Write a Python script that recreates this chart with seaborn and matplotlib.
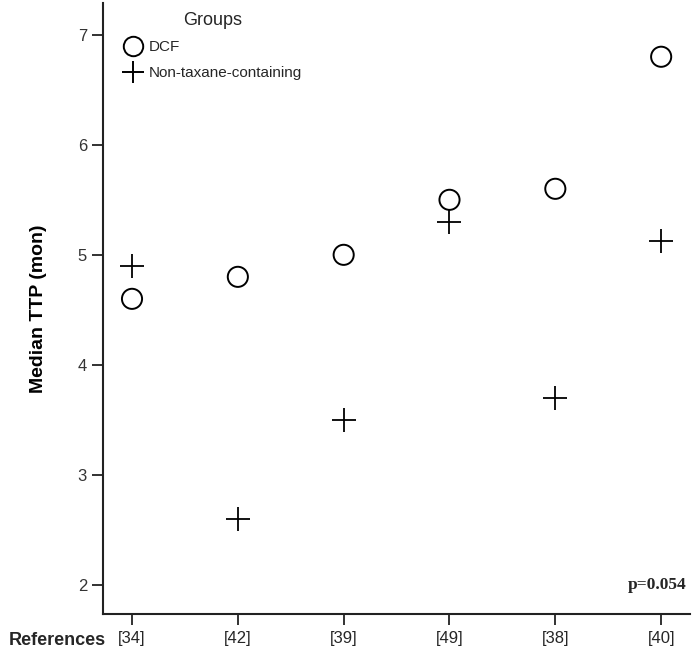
import matplotlib
matplotlib.use("Agg")
import matplotlib.pyplot as plt
from matplotlib.lines import Line2D
import seaborn as sns
import pandas as pd

references = ["[34]", "[42]", "[39]", "[49]", "[38]", "[40]"]
dcf_ttp = [4.6, 4.8, 5.0, 5.5, 5.6, 6.8]
non_taxane_ttp = [4.9, 2.6, 3.5, 5.3, 3.7, 5.13]
y_ticks = [2, 3, 4, 5, 6, 7]

df = pd.DataFrame({
    "pos": list(range(len(references))) * 2,
    "ttp": dcf_ttp + non_taxane_ttp,
    "group": ["DCF"] * len(references) + ["Non-taxane-containing"] * len(references),
})

sns.set_style("ticks")
plt.rcParams["font.family"] = ["Liberation Sans", "DejaVu Sans"]

fig = plt.figure(figsize=(6.96, 6.6), dpi=100)
ax = fig.add_axes([0.148, 0.0697, 0.843, 0.926])

# open circles for DCF
sns.scatterplot(data=df[df["group"] == "DCF"], x="pos", y="ttp", marker="o",
                s=210, facecolors="none", edgecolor="black", linewidth=1.4, ax=ax, legend=False)
# plus markers for non-taxane regimens
sns.scatterplot(data=df[df["group"] == "Non-taxane-containing"], x="pos", y="ttp", marker="+",
                s=280, color="black", linewidth=1.3, ax=ax, legend=False)

ax.set_xlim(-0.274, 5.27)
ax.set_ylim(1.736, 7.29)
ax.set_xticks(range(len(references)))
ax.set_xticklabels(references, fontsize=12)
ax.set_yticks(y_ticks)
ax.set_yticklabels([str(t) for t in y_ticks], fontsize=12, color="#333333")
ax.set_xlabel("")
ax.set_ylabel("Median TTP (mon)", fontsize=14, fontweight="bold", labelpad=22, color="black")

for side in ["top", "right"]:
    ax.spines[side].set_visible(False)
for side in ["left", "bottom"]:
    ax.spines[side].set_linewidth(1.5)
    ax.spines[side].set_color("#222222")
ax.tick_params(axis="both", direction="out", length=8, width=1.3, color="#222222")
ax.tick_params(axis="x", pad=4)

fig.text(0.013, 0.029, "References", fontsize=13, fontweight="bold", va="center", ha="left")
ax.text(0.995, 0.035, "p=0.054", transform=ax.transAxes, ha="right", va="bottom",
        fontsize=12.5, fontweight="bold", family=["Liberation Serif", "DejaVu Serif"])

handles = [
    Line2D([], [], marker="o", linestyle="none", markersize=14, markerfacecolor="none",
           markeredgecolor="black", markeredgewidth=1.4, label="DCF"),
    Line2D([], [], marker="+", linestyle="none", markersize=16, color="black",
           markeredgewidth=1.4, label="Non-taxane-containing"),
]
leg = ax.legend(handles=handles, title="Groups", loc="upper left", bbox_to_anchor=(0.02, 1.0),
                frameon=False, fontsize=11, title_fontsize=13, handletextpad=0.4,
                labelspacing=0.75, handlelength=1.2, borderaxespad=0.2)

fig.savefig("out.png", dpi=100)
